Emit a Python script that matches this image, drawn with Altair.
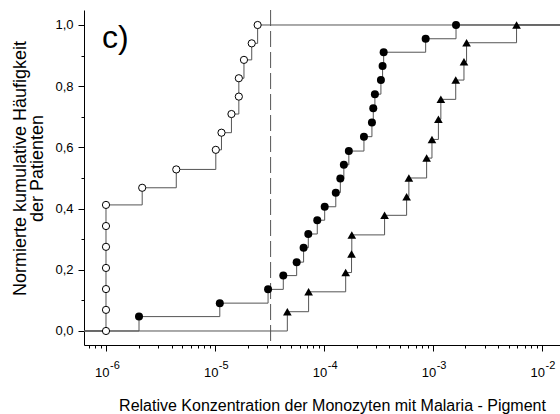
import altair as alt
import pandas as pd

# ---------------- data ----------------
open_x = [1e-6, 1e-6, 1e-6, 1e-6, 1e-6, 1e-6, 1e-6, 2.15e-6, 4.42e-6, 1.02e-5,
          1.15e-5, 1.42e-5, 1.66e-5, 1.66e-5, 1.85e-5, 2.18e-5, 2.47e-5]
open_y = [0.0, 0.069, 0.137, 0.206, 0.275, 0.343, 0.412, 0.468, 0.528, 0.592,
          0.648, 0.709, 0.766, 0.826, 0.886, 0.940, 1.0]

filled_x = [2.01e-6, 1.11e-5, 3.08e-5, 4.25e-5, 5.64e-5, 6.53e-5, 7.21e-5, 8.72e-5,
            1.02e-4, 1.29e-4, 1.42e-4, 1.53e-4, 1.70e-4, 2.34e-4, 2.77e-4, 2.85e-4,
            2.95e-4, 3.35e-4, 3.47e-4, 3.55e-4, 8.63e-4, 1.64e-3]
filled_y = [0.047, 0.091, 0.136, 0.181, 0.225, 0.272, 0.317, 0.362, 0.406, 0.452,
            0.498, 0.543, 0.588, 0.635, 0.681, 0.728, 0.774, 0.820, 0.866, 0.911,
            0.955, 1.0]

tri_x = [4.63e-5, 7.26e-5, 1.59e-4, 1.80e-4, 1.81e-4, 3.62e-4, 5.77e-4, 6.05e-4,
         8.81e-4, 9.86e-4, 1.13e-3, 1.19e-3, 1.63e-3, 1.94e-3, 2.05e-3, 5.90e-3]
tri_y = [0.063, 0.128, 0.191, 0.252, 0.314, 0.378, 0.439, 0.5, 0.565, 0.626,
         0.692, 0.757, 0.820, 0.880, 0.942, 1.0]

threshold_x = [3.25e-5]
decades = [-6, -5, -4, -3, -2]
panel_label = ["c)"]
x_title = "Relative Konzentration der Monozyten mit Malaria - Pigment"
y_title = ["Normierte kumulative Häufigkeit", "der Patienten"]

# ---------------- scales / axes ----------------
XMIN = 10 ** (-6 - 22 / 108.9)
XMAX = 10 ** (-2 + 18.5 / 108.9)
YMIN, YMAX = -0.0458, 1.049
FONT = "Liberation Sans, Arial, sans-serif"

x_ticks = sorted(k * 10.0 ** e for e in range(-7, -1) for k in range(1, 10)
                 if XMIN <= k * 10.0 ** e <= XMAX)
y_ticks = [round(i * 0.1, 1) for i in range(0, 11)]

MAJX = "abs(log(datum.value)/LN10 - round(log(datum.value)/LN10)) < 0.001"
MAJY = "abs(datum.value*5 - round(datum.value*5)) < 0.001"

xaxis = alt.Axis(
    values=x_ticks, grid=False, title=x_title,
    labelExpr=f"({MAJX}) ? '10' : ''",
    tickSize={"condition": {"test": MAJX, "value": 6}, "value": 3},
    labelAlign="right", labelOffset=3, labelBaseline="top", labelPadding=15,
    labelFont=FONT, labelFontSize=13, labelColor="black",
    labelOverlap=False, labelFlush=False,
    titleFont=FONT, titleFontSize=16, titleFontWeight="normal", titleColor="black",
    titleX=248, titleY=65, titleBaseline="alphabetic",
    domainColor="black", tickColor="black", domainWidth=1, tickWidth=1,
)
yaxis = alt.Axis(
    values=y_ticks, grid=False, title=y_title,
    labelExpr=f"({MAJY}) ? replace(format(datum.value, '.1f'), '.', ',') : ''",
    tickSize={"condition": {"test": MAJY, "value": 6}, "value": 3},
    labelPadding=5, labelFont=FONT, labelFontSize=13, labelColor="black",
    labelOverlap=False, labelFlush=False,
    titleFont=FONT, titleFontSize=18, titleFontWeight="normal", titleColor="black",
    titleX=-59, titleY=158, titleBaseline="alphabetic", titleLineHeight=17,
    titleAngle=-90, titleAlign="center",
    domainColor="black", tickColor="black", domainWidth=1, tickWidth=1,
)

X = alt.X("x:Q", scale=alt.Scale(type="log", domain=[XMIN, XMAX], nice=False), axis=xaxis)
Y = alt.Y("y:Q", scale=alt.Scale(domain=[YMIN, YMAX], nice=False, zero=False), axis=yaxis)

# ---------------- tables ----------------
series = [("offen", open_x, open_y), ("gefuellt", filled_x, filled_y), ("dreieck", tri_x, tri_y)]
rows = []
for name, xs, ys in series:
    pts = [(XMIN, 0.0)] + list(zip(xs, ys)) + [(XMAX, ys[-1])]
    for i, (xv, yv) in enumerate(pts):
        rows.append({"series": name, "x": xv, "y": yv, "idx": i})
lines_df = pd.DataFrame(rows)
open_df = pd.DataFrame({"x": open_x, "y": open_y})
filled_df = pd.DataFrame({"x": filled_x, "y": filled_y})
tri_df = pd.DataFrame({"x": tri_x, "y": tri_y})
rule_df = pd.DataFrame({"x": threshold_x})
exp_df = pd.DataFrame({"x": [10.0 ** e for e in decades], "label": [str(e) for e in decades]})
lab_df = pd.DataFrame({"x": [9.2e-7], "y": [0.925], "label": panel_label})

# ---------------- layers ----------------
lines = alt.Chart(lines_df).mark_line(
    interpolate="step-after", color="#555555", strokeWidth=1, clip=True
).encode(x=X, y=Y, detail="series:N", order="idx:Q")

rule = alt.Chart(rule_df).mark_rule(
    color="#555555", strokeWidth=1, strokeDash=[16, 5]
).encode(x=X)

open_pts = alt.Chart(open_df).mark_point(
    shape="circle", filled=True, fill="white", stroke="black", strokeWidth=1,
    size=52, opacity=1
).encode(x=X, y=Y)

filled_pts = alt.Chart(filled_df).mark_point(
    shape="circle", filled=True, color="black", size=64, opacity=1
).encode(x=X, y=Y)

tri_pts = alt.Chart(tri_df).mark_point(
    shape="triangle-up", filled=True, color="black", size=75, opacity=1
).encode(x=X, y=Y)

panel = alt.Chart(lab_df).mark_text(
    align="left", baseline="alphabetic", fontSize=32, font=FONT, color="black"
).encode(x=X, y=Y, text="label:N")

exps = alt.Chart(exp_df).mark_text(
    align="left", baseline="alphabetic", dx=4, fontSize=11, font=FONT, color="black"
).encode(x=X, y=alt.value(359), text="label:N")

chart = alt.layer(lines, rule, open_pts, filled_pts, tri_pts, panel, exps).properties(
    width=476, height=335,
    autosize=alt.AutoSizeParams(type="none"),
    padding={"left": 84, "top": 10, "right": 0, "bottom": 69},
    background="white",
).configure_view(stroke=None)

chart.save("out.html", embed_options={"renderer": "svg", "actions": False})
